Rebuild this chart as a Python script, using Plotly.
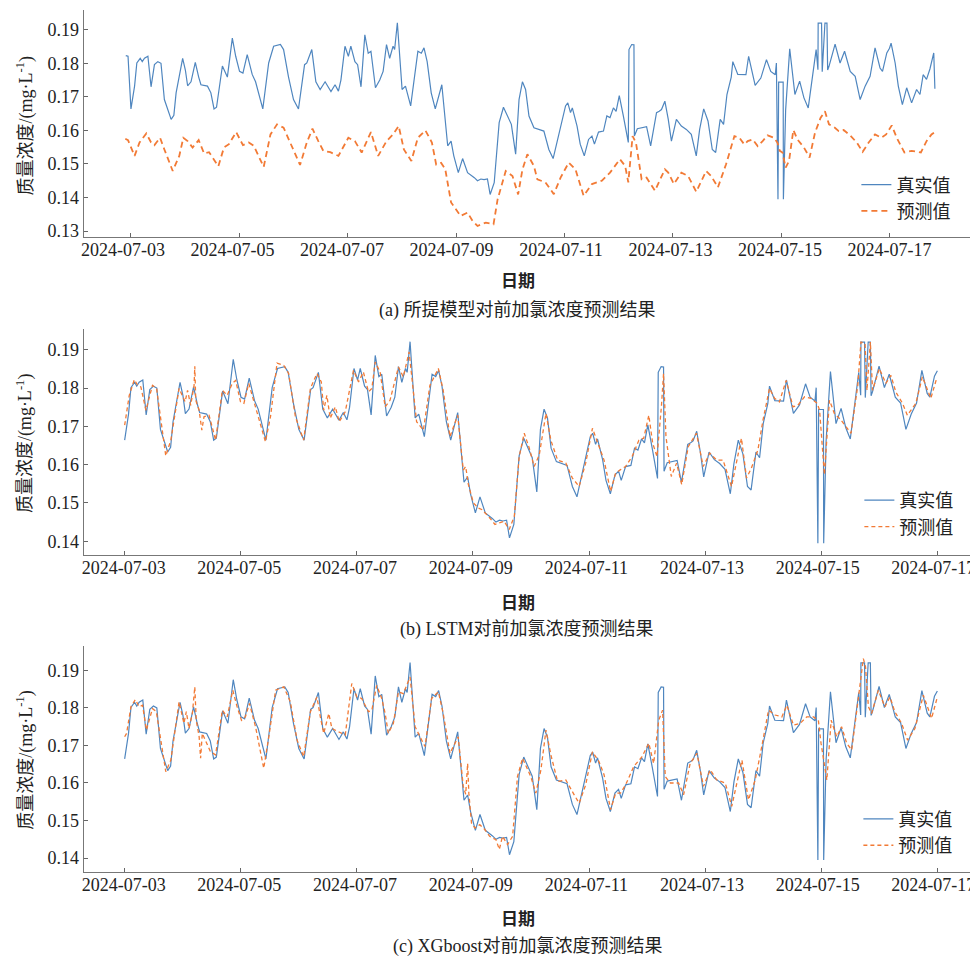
import pandas as pd
import plotly.graph_objects as go

# ---------------- data (hours after 2024-07-03 00:00) ----------------
actual_hours = [-2.3, -1.3, 0.0, 1.6, 2.6, 4.1, 5.0, 6.0, 7.5, 8.9, 10.4, 11.9, 13.3, 14.8, 17.8, 19.0, 20.0,
    22.9, 24.1, 25.1, 26.6, 28.5, 30.0, 31.0, 33.9, 35.4, 36.8, 37.9, 40.5, 42.7, 44.9, 46.4, 48.1, 49.6,
    51.5, 53.7, 55.2, 58.4, 61.0, 63.2, 66.2, 67.6, 69.8, 72.0, 74.2, 76.9, 77.9, 80.1, 81.9, 83.8, 86.0,
    88.6, 90.4, 91.9, 93.0, 94.8, 96.3, 97.4, 99.2, 100.4, 101.9, 103.6, 105.1, 106.3, 108.3, 110.2, 111.7,
    113.2, 114.6, 116.1, 116.8, 118.0, 120.1, 121.6, 123.9, 125.7, 127.1, 128.6, 129.8, 131.2, 133.0, 134.8,
    135.9, 137.7, 140.3, 141.8, 143.0, 145.0, 146.9, 149.1, 152.1, 153.5, 155.0, 156.4, 157.9, 159.1, 160.9,
    163.1, 165.0, 166.8, 168.5, 170.4, 171.9, 173.4, 174.8, 176.3, 178.5, 182.9, 185.1, 187.0, 188.8, 191.0,
    192.5, 193.5, 194.7, 195.5, 197.6, 199.0, 200.8, 202.7, 204.2, 205.3, 207.1, 209.3, 210.8, 212.2, 213.7,
    214.9, 216.3, 218.1, 220.3, 220.6, 221.8, 222.8, 223.0, 224.3, 228.4, 230.2, 232.8, 234.0, 235.0, 236.5,
    238.0, 239.4, 241.6, 243.8, 246.0, 248.2, 250.4, 251.9, 253.7, 255.6, 257.5, 259.0, 261.0, 262.5, 264.0,
    265.9, 266.6, 268.8, 272.4, 273.6, 276.5, 279.0, 281.5, 283.4, 285.4, 285.9, 286.6, 286.9, 288.9, 289.0,
    290.0, 291.8, 294.1, 296.2, 298.1, 300.0, 301.8, 303.5, 304.3, 304.4, 305.9, 306.2, 307.4, 308.3, 308.6,
    309.2, 311.9, 314.1, 316.1, 318.6, 320.8, 323.0, 325.2, 327.4, 329.6, 331.8, 332.9, 334.8, 336.0, 336.7,
    338.5, 339.9, 341.7, 343.6, 345.8, 348.0, 349.5, 350.9, 352.4, 353.9, 355.6, 356.1]
actual = [0.1823, 0.1821, 0.1664, 0.1732, 0.1801, 0.1815, 0.1805, 0.1815, 0.1821, 0.1730, 0.1796, 0.1805, 0.1800,
    0.1692, 0.1633, 0.1645, 0.1712, 0.1815, 0.1780, 0.1733, 0.1745, 0.1803, 0.1759, 0.1736, 0.1732, 0.1712,
    0.1664, 0.1669, 0.1792, 0.1759, 0.1875, 0.1821, 0.1776, 0.1771, 0.1826, 0.1767, 0.1745, 0.1664, 0.1801,
    0.1851, 0.1856, 0.1841, 0.1759, 0.1692, 0.1664, 0.1796, 0.1801, 0.1841, 0.1745, 0.1722, 0.1745, 0.1716,
    0.1736, 0.1717, 0.1750, 0.1851, 0.1821, 0.1851, 0.1805, 0.1796, 0.1730, 0.1885, 0.1830, 0.1836, 0.1727,
    0.1750, 0.1776, 0.1856, 0.1815, 0.1851, 0.1841, 0.1921, 0.1722, 0.1732, 0.1673, 0.1759, 0.1836, 0.1830,
    0.1846, 0.1805, 0.1712, 0.1664, 0.1692, 0.1736, 0.1554, 0.1568, 0.1524, 0.1474, 0.1516, 0.1474, 0.1459,
    0.1450, 0.1455, 0.1453, 0.1455, 0.1409, 0.1444, 0.1623, 0.1669, 0.1643, 0.1618, 0.1529, 0.1692, 0.1745,
    0.1722, 0.1643, 0.1608, 0.1598, 0.1543, 0.1516, 0.1568, 0.1633, 0.1673, 0.1682, 0.1653, 0.1667, 0.1613,
    0.1559, 0.1524, 0.1573, 0.1583, 0.1559, 0.1595, 0.1598, 0.1643, 0.1638, 0.1667, 0.1657, 0.1704, 0.1643,
    0.1564, 0.1841, 0.1856, 0.1855, 0.1583, 0.1605, 0.1611, 0.1554, 0.1653, 0.1657, 0.1662, 0.1687, 0.1633,
    0.1568, 0.1633, 0.1613, 0.1603, 0.1588, 0.1524, 0.1603, 0.1664, 0.1628, 0.1543, 0.1534, 0.1633, 0.1618,
    0.1707, 0.1759, 0.1805, 0.1767, 0.1766, 0.1821, 0.1734, 0.1756, 0.1811, 0.1776, 0.1766, 0.1801, 0.1395,
    0.1744, 0.1744, 0.1395, 0.1662, 0.1843, 0.1707, 0.1747, 0.1697, 0.1667, 0.1752, 0.1841, 0.1781, 0.1920,
    0.1920, 0.1775, 0.1920, 0.1920, 0.1780, 0.1791, 0.1857, 0.1801, 0.1836, 0.1776, 0.1761, 0.1692, 0.1732,
    0.1761, 0.1846, 0.1786, 0.1776, 0.1831, 0.1845, 0.1860, 0.1801, 0.1732, 0.1677, 0.1727, 0.1682, 0.1722,
    0.1707, 0.1766, 0.1752, 0.1783, 0.1831, 0.1724]

# (a) proposed model prediction
pred_a_hours = [-2.5, -1.3, 1.6, 3.8, 6.8, 8.9, 10.4, 12.9, 14.8, 18.5, 21.4, 23.2, 25.1, 27.3, 30.0, 32.4, 34.6,
    38.7, 41.2, 43.4, 46.6, 49.6, 52.2, 54.4, 58.8, 61.8, 64.7, 67.6, 70.5, 74.9, 77.9, 80.4, 83.0, 85.2, 88.3,
    91.9, 96.3, 99.2, 102.2, 106.3, 109.5, 113.2, 116.1, 118.6, 120.9, 124.2, 127.1, 130.4, 133.3, 135.2, 137.4,
    139.2, 141.8, 144.0, 146.0, 149.1, 151.3, 153.5, 157.2, 160.6, 162.4, 166.0, 169.0, 171.5, 173.4, 175.6,
    178.5, 180.0, 183.6, 187.3, 190.3, 193.9, 196.9, 200.5, 204.2, 208.6, 212.2, 216.6, 218.9, 220.3, 222.2,
    223.7, 226.2, 228.4, 232.1, 236.5, 238.0, 240.5, 243.8, 246.8, 250.4, 254.8, 257.0, 260.0, 263.6, 267.3,
    269.5, 271.7, 273.2, 275.4, 277.6, 279.8, 282.0, 284.9, 286.4, 287.4, 288.6, 290.0, 291.5, 293.4, 295.2,
    298.1, 300.6, 303.0, 305.5, 307.4, 309.2, 311.8, 313.5, 315.7, 318.6, 321.6, 324.1, 326.7, 329.6, 332.3,
    334.5, 337.0, 339.2, 342.6, 345.8, 349.9, 352.4, 354.6, 356.1]
pred_a = [0.1575, 0.1571, 0.1524, 0.1564, 0.1591, 0.1564, 0.1556, 0.1578, 0.1543, 0.1479, 0.1524, 0.1578, 0.1568,
    0.1549, 0.1571, 0.1531, 0.1535, 0.1493, 0.1549, 0.1559, 0.1595, 0.1556, 0.1564, 0.1554, 0.1491, 0.1588,
    0.1618, 0.1608, 0.1564, 0.1497, 0.1564, 0.1605, 0.1568, 0.1539, 0.1535, 0.1524, 0.1578, 0.1568, 0.1534,
    0.1595, 0.1524, 0.1568, 0.1588, 0.1613, 0.1543, 0.1509, 0.1578, 0.1600, 0.1564, 0.1498, 0.1503, 0.1485,
    0.1385, 0.1365, 0.1345, 0.1355, 0.1330, 0.1315, 0.1325, 0.1320, 0.1394, 0.1479, 0.1464, 0.1409, 0.1483,
    0.1529, 0.1494, 0.1454, 0.1445, 0.1410, 0.1459, 0.1504, 0.1484, 0.1405, 0.1440, 0.1450, 0.1474, 0.1514,
    0.1494, 0.1445, 0.1583, 0.1563, 0.1454, 0.1459, 0.1420, 0.1484, 0.1474, 0.1440, 0.1474, 0.1464, 0.1417,
    0.1479, 0.1464, 0.1430, 0.1499, 0.1583, 0.1578, 0.1558, 0.1568, 0.1573, 0.1553, 0.1568, 0.1585, 0.1578,
    0.1563, 0.1539, 0.1534, 0.1489, 0.1509, 0.1601, 0.1573, 0.1549, 0.1519, 0.1593, 0.1638, 0.1657, 0.1618,
    0.1608, 0.1598, 0.1601, 0.1585, 0.1563, 0.1536, 0.1563, 0.1588, 0.1578, 0.1588, 0.1615, 0.1578, 0.1534,
    0.1539, 0.1534, 0.1568, 0.1588, 0.1595]

# (b) LSTM prediction
pred_lstm_hours = [0.0, 1.9, 4.0, 5.4, 6.7, 8.8, 11.5, 13.2, 17.0, 19.1, 22.5, 25.0, 26.0, 27.3, 28.7, 29.0, 29.4,
    30.8, 31.9, 32.8, 34.9, 37.6, 40.4, 42.4, 44.5, 45.9, 47.9, 49.3, 51.3, 54.1, 58.2, 60.3, 63.0, 65.8, 67.8,
    70.6, 74.0, 76.8, 79.5, 81.3, 82.3, 83.6, 85.0, 87.1, 88.7, 91.2, 94.6, 96.7, 98.7, 100.8, 102.2, 103.6,
    105.6, 107.7, 109.7, 113.2, 115.2, 117.6, 119.4, 120.7, 123.5, 126.2, 129.7, 131.7, 134.5, 137.7, 140.0,
    141.0, 142.1, 144.2, 146.2, 147.6, 150.4, 153.1, 156.9, 159.0, 161.1, 163.1, 165.2, 167.3, 169.3, 171.4,
    174.2, 176.2, 179.0, 182.4, 185.1, 187.9, 190.6, 193.4, 195.4, 198.2, 200.9, 203.0, 205.0, 207.1, 209.8,
    212.6, 214.6, 216.7, 218.3, 220.1, 221.9, 222.8, 223.8, 226.0, 228.2, 230.3, 233.0, 236.4, 239.2, 241.9,
    244.7, 247.4, 250.9, 255.0, 257.1, 259.1, 261.8, 263.9, 266.6, 268.7, 270.7, 273.5, 276.3, 278.3, 281.1,
    283.8, 286.3, 287.3, 289.3, 291.4, 293.4, 296.2, 298.2, 300.3, 303.1, 304.4, 306.1, 306.9, 308.3, 309.2,
    312.0, 314.7, 316.8, 318.8, 321.6, 323.6, 327.1, 329.8, 333.3, 335.7]
pred_lstm = [0.1703, 0.1781, 0.1822, 0.1807, 0.1803, 0.1742, 0.1807, 0.1799, 0.1623, 0.1664, 0.1799, 0.1764,
    0.1794, 0.1755, 0.1807, 0.1857, 0.1768, 0.1742, 0.1690, 0.1725, 0.1729, 0.1664, 0.1794, 0.1781, 0.1812,
    0.1820, 0.1764, 0.1760, 0.1812, 0.1751, 0.1660, 0.1725, 0.1865, 0.1859, 0.1838, 0.1725, 0.1664, 0.1799,
    0.1838, 0.1816, 0.1742, 0.1781, 0.1721, 0.1751, 0.1712, 0.1738, 0.1846, 0.1816, 0.1842, 0.1790, 0.1799,
    0.1868, 0.1842, 0.1751, 0.1768, 0.1855, 0.1829, 0.1894, 0.1794, 0.1712, 0.1690, 0.1807, 0.1851, 0.1794,
    0.1673, 0.1729, 0.1586, 0.1595, 0.1548, 0.1500, 0.1487, 0.1483, 0.1465, 0.1444, 0.1452, 0.1431, 0.1465,
    0.1621, 0.1682, 0.1643, 0.1595, 0.1625, 0.1734, 0.1664, 0.1612, 0.1604, 0.1565, 0.1543, 0.1604, 0.1695,
    0.1660, 0.1612, 0.1530, 0.1578, 0.1587, 0.1595, 0.1621, 0.1664, 0.1669, 0.1729, 0.1656, 0.1621, 0.1751,
    0.1838, 0.1673, 0.1569, 0.1604, 0.1548, 0.1647, 0.1682, 0.1595, 0.1630, 0.1612, 0.1612, 0.1543, 0.1669,
    0.1565, 0.1591, 0.1638, 0.1716, 0.1799, 0.1773, 0.1764, 0.1820, 0.1751, 0.1755, 0.1777, 0.1773, 0.1760,
    0.1742, 0.1574, 0.1768, 0.1734, 0.1716, 0.1699, 0.1682, 0.1807, 0.1920, 0.1916, 0.1794, 0.1920, 0.1794,
    0.1851, 0.1812, 0.1833, 0.1790, 0.1760, 0.1729, 0.1760, 0.1829, 0.1773, 0.1825]

# (c) XGboost prediction
pred_xgb_hours = [0.0, 0.8, 2.6, 4.4, 6.0, 7.4, 9.0, 11.5, 13.1, 17.0, 19.1, 22.5, 24.5, 25.5, 26.6, 28.0, 29.0,
    29.6, 30.8, 31.4, 32.1, 33.8, 35.5, 37.6, 40.4, 42.4, 44.7, 46.5, 48.3, 49.9, 51.6, 54.1, 57.5, 59.6, 62.4,
    65.8, 68.5, 71.3, 74.0, 76.8, 79.5, 80.9, 82.3, 84.4, 85.7, 88.5, 91.2, 93.9, 96.0, 98.0, 100.8, 102.2,
    104.2, 106.3, 107.7, 109.0, 111.1, 113.2, 115.2, 118.0, 120.1, 122.1, 124.2, 126.9, 129.7, 131.7, 134.5,
    137.9, 140.0, 141.0, 141.8, 142.3, 143.4, 144.8, 146.8, 148.9, 150.9, 153.5, 154.9, 156.2, 158.3, 160.4,
    162.4, 164.5, 167.9, 170.0, 172.1, 174.2, 176.2, 179.0, 182.4, 185.8, 187.9, 190.6, 193.4, 196.1, 198.2,
    200.9, 203.0, 205.0, 207.1, 210.5, 213.9, 216.7, 218.7, 220.8, 222.4, 223.5, 225.6, 229.0, 231.1, 233.8,
    236.6, 239.3, 242.1, 244.8, 248.3, 251.0, 255.2, 257.9, 260.7, 263.4, 266.2, 268.9, 271.7, 273.8, 276.5,
    279.3, 282.0, 284.8, 286.8, 287.9, 290.3, 292.1, 294.4, 296.4, 298.5, 300.6, 303.3, 305.4, 306.3, 307.5,
    308.8, 311.6, 314.3, 316.4, 318.4, 321.2, 323.7, 326.7, 330.2, 333.6, 336.0]
pred_xgb = [0.1723, 0.1732, 0.1803, 0.1822, 0.1803, 0.1807, 0.1741, 0.1798, 0.1790, 0.1630, 0.1661, 0.1816,
    0.1759, 0.1790, 0.1745, 0.1785, 0.1856, 0.1767, 0.1723, 0.1666, 0.1732, 0.1706, 0.1683, 0.1675, 0.1794,
    0.1776, 0.1847, 0.1803, 0.1767, 0.1776, 0.1812, 0.1750, 0.1639, 0.1723, 0.1847, 0.1856, 0.1816, 0.1714,
    0.1670, 0.1790, 0.1829, 0.1776, 0.1732, 0.1785, 0.1745, 0.1736, 0.1728, 0.1865, 0.1829, 0.1825, 0.1790,
    0.1794, 0.1860, 0.1825, 0.1785, 0.1732, 0.1759, 0.1843, 0.1838, 0.1882, 0.1750, 0.1723, 0.1697, 0.1825,
    0.1843, 0.1785, 0.1679, 0.1723, 0.1590, 0.1570, 0.1652, 0.1573, 0.1493, 0.1480, 0.1489, 0.1476, 0.1458,
    0.1449, 0.1423, 0.1458, 0.1436, 0.1458, 0.1617, 0.1666, 0.1617, 0.1573, 0.1635, 0.1741, 0.1675, 0.1604,
    0.1608, 0.1569, 0.1546, 0.1595, 0.1683, 0.1657, 0.1622, 0.1529, 0.1573, 0.1573, 0.1595, 0.1644, 0.1670,
    0.1706, 0.1652, 0.1767, 0.1794, 0.1617, 0.1600, 0.1600, 0.1569, 0.1652, 0.1679, 0.1591, 0.1635, 0.1608,
    0.1600, 0.1538, 0.1661, 0.1555, 0.1608, 0.1697, 0.1794, 0.1781, 0.1776, 0.1807, 0.1754, 0.1759, 0.1776,
    0.1776, 0.1767, 0.1706, 0.1608, 0.1767, 0.1723, 0.1750, 0.1706, 0.1688, 0.1829, 0.1931, 0.1909, 0.1803,
    0.1785, 0.1847, 0.1803, 0.1829, 0.1790, 0.1759, 0.1714, 0.1745, 0.1834, 0.1772, 0.1829]

x_tick_labels = ["2024-07-03", "2024-07-05", "2024-07-07", "2024-07-09",
                 "2024-07-11", "2024-07-13", "2024-07-15", "2024-07-17"]
yticks_a = [0.13, 0.14, 0.15, 0.16, 0.17, 0.18, 0.19]
yticks_bc = [0.14, 0.15, 0.16, 0.17, 0.18, 0.19]

legend_names = ["真实值", "预测值"]
captions = ["(a) 所提模型对前加氯浓度预测结果", "(b) LSTM对前加氯浓度预测结果", "(c) XGboost对前加氯浓度预测结果"]
y_title = "质量浓度/(mg·L<sup>-1</sup>)"
x_title = "日期"

# ---------------- helpers ----------------
BASE = pd.Timestamp("2024-07-03")


def to_dt(hours):
    return [BASE + pd.Timedelta(hours=h) for h in hours]


bc_pairs = [(h, v) for h, v in zip(actual_hours, actual) if 0 <= h <= 336.0]
bc_hours = [p[0] for p in bc_pairs]
bc_vals = [p[1] for p in bc_pairs]

BLUE = "#4f86bf"
ORANGE = "#f27a35"
# the page body has an 8px default margin: the figure is drawn at (8, 8)
OFF = 8
VW, VH = 978, 960
W, H = VW - OFF, VH - OFF


def px_x(x):
    return (x - OFF) / W


def px_y(y):
    return 1 - (y - OFF) / H


TICKFONT = "Liberation Serif"
CJK = "Liberation Serif, Noto Sans CJK SC"

fig = go.Figure()

panels = [
    dict(ax="", leg="legend", act_h=actual_hours, act_v=actual, p_h=pred_a_hours, p_v=pred_a, dash="6px,4px", pw=1.8),
    dict(ax="2", leg="legend2", act_h=bc_hours, act_v=bc_vals, p_h=pred_lstm_hours, p_v=pred_lstm, dash="4px,3px", pw=1.3),
    dict(ax="3", leg="legend3", act_h=bc_hours, act_v=bc_vals, p_h=pred_xgb_hours, p_v=pred_xgb, dash="4px,3px", pw=1.3),
]
for p in panels:
    fig.add_trace(go.Scatter(x=to_dt(p["act_h"]), y=p["act_v"], mode="lines", name=legend_names[0],
                             line=dict(color=BLUE, width=1.2), xaxis="x" + p["ax"], yaxis="y" + p["ax"],
                             legend=p["leg"]))
    fig.add_trace(go.Scatter(x=to_dt(p["p_h"]), y=p["p_v"], mode="lines", name=legend_names[1],
                             line=dict(color=ORANGE, width=p["pw"], dash=p["dash"]), xaxis="x" + p["ax"],
                             yaxis="y" + p["ax"], legend=p["leg"]))

# pixel geometry of the three panels: (top, bottom) in page px
geo = [(10, 238), (330, 557), (649, 876)]
xranges = [(-20.9, 375.2), (-16.9, 352.8), (-16.9, 352.8)]
yranges = [(0.1282, 0.1959), (0.1365, 0.1955), (0.1362, 0.1964)]
ytick_sets = [yticks_a, yticks_bc, yticks_bc]
px_per_hour = [54.4 / 24, 58.24 / 24, 58.24 / 24]
# label offsets (px) relative to tick marks, first and last label
label_off = [(-8.0, 0.0), (-1.0, -4.0), (-1.0, -4.0)]
n_lab = len(x_tick_labels)
tick_dt = [BASE + pd.Timedelta(days=2 * i) for i in range(n_lab)]

layout = dict(width=W, height=H, margin=dict(l=0, r=0, t=0, b=0), paper_bgcolor="white",
              plot_bgcolor="white", showlegend=True,
              font=dict(family=CJK, size=18, color="#222"))
for i, (top, bot) in enumerate(geo):
    sfx = "" if i == 0 else str(i + 1)
    ov = str(i + 4)
    xr = [BASE + pd.Timedelta(hours=xranges[i][0]), BASE + pd.Timedelta(hours=xranges[i][1])]
    layout["xaxis" + sfx] = dict(domain=[px_x(81), 1.0], anchor="y" + sfx, type="date", range=xr,
                                 tickvals=tick_dt, showticklabels=False, ticks="inside", ticklen=4,
                                 tickcolor="#666", showline=True, linecolor="#777", linewidth=1.2,
                                 showgrid=False, zeroline=False)
    o0, o1 = label_off[i]
    lab_dt = [BASE + pd.Timedelta(hours=48 * k + (o0 + (o1 - o0) * k / (n_lab - 1)) / px_per_hour[i])
              for k in range(n_lab)]
    layout["xaxis" + ov] = dict(domain=[px_x(81), 1.0], anchor="y" + sfx, overlaying="x" + sfx, type="date",
                                range=xr, tickvals=lab_dt, ticktext=x_tick_labels, ticks="", showline=False,
                                showgrid=False, zeroline=False, side="bottom", ticklabeloverflow="allow",
                                tickfont=dict(family=TICKFONT, size=18, color="#222"))
    layout["yaxis" + sfx] = dict(domain=[px_y(bot), px_y(top)], anchor="x" + sfx, range=list(yranges[i]),
                                 tickvals=ytick_sets[i], tickformat=".2f", ticks="inside", ticklen=4,
                                 tickcolor="#666", showline=True, linecolor="#777", linewidth=1.2,
                                 showgrid=False, zeroline=False,
                                 tickfont=dict(family=TICKFONT, size=18, color="#222"))

leg_pos = [(856, 167), (859, 484), (858, 804)]
for i, (lx, ly) in enumerate(leg_pos):
    key = "legend" if i == 0 else "legend" + str(i + 1)
    layout[key] = dict(x=px_x(lx), y=px_y(ly), xanchor="left", yanchor="top", bgcolor="rgba(0,0,0,0)",
                       font=dict(family=CJK, size=18, color="#222"), itemwidth=30, tracegroupgap=0)

fig.update_layout(**layout)

# invisible anchor traces so the label-only overlay axes are laid out
for i in range(3):
    sfx = "" if i == 0 else str(i + 1)
    fig.add_trace(go.Scatter(x=[BASE], y=[None], mode="lines", showlegend=False, hoverinfo="skip",
                             xaxis="x" + str(i + 4), yaxis="y" + sfx))

annos = []
ytitle_y = [126, 445, 763]
xtitle_y = [283, 606, 923]
cap_y = [312, 632, 950]
cap_x = [516, 526, 526]
for i in range(3):
    annos.append(dict(text=y_title, x=px_x(22), y=px_y(ytitle_y[i]), xref="paper", yref="paper",
                      xanchor="center", yanchor="middle",
                      textangle=-90, showarrow=False, font=dict(family=CJK, size=18, color="#222")))
    annos.append(dict(text="<b>" + x_title + "</b>", x=px_x(517), y=px_y(xtitle_y[i]), xref="paper",
                      yref="paper", xanchor="center", yanchor="middle", showarrow=False,
                      font=dict(family=CJK, size=17, color="#222")))
    annos.append(dict(text=captions[i], x=px_x(cap_x[i]), y=px_y(cap_y[i]), xref="paper", yref="paper",
                      xanchor="center", yanchor="middle",
                      showarrow=False, font=dict(family=CJK, size=18, color="#222")))
fig.update_layout(annotations=annos)

fig.write_html("out.html")
